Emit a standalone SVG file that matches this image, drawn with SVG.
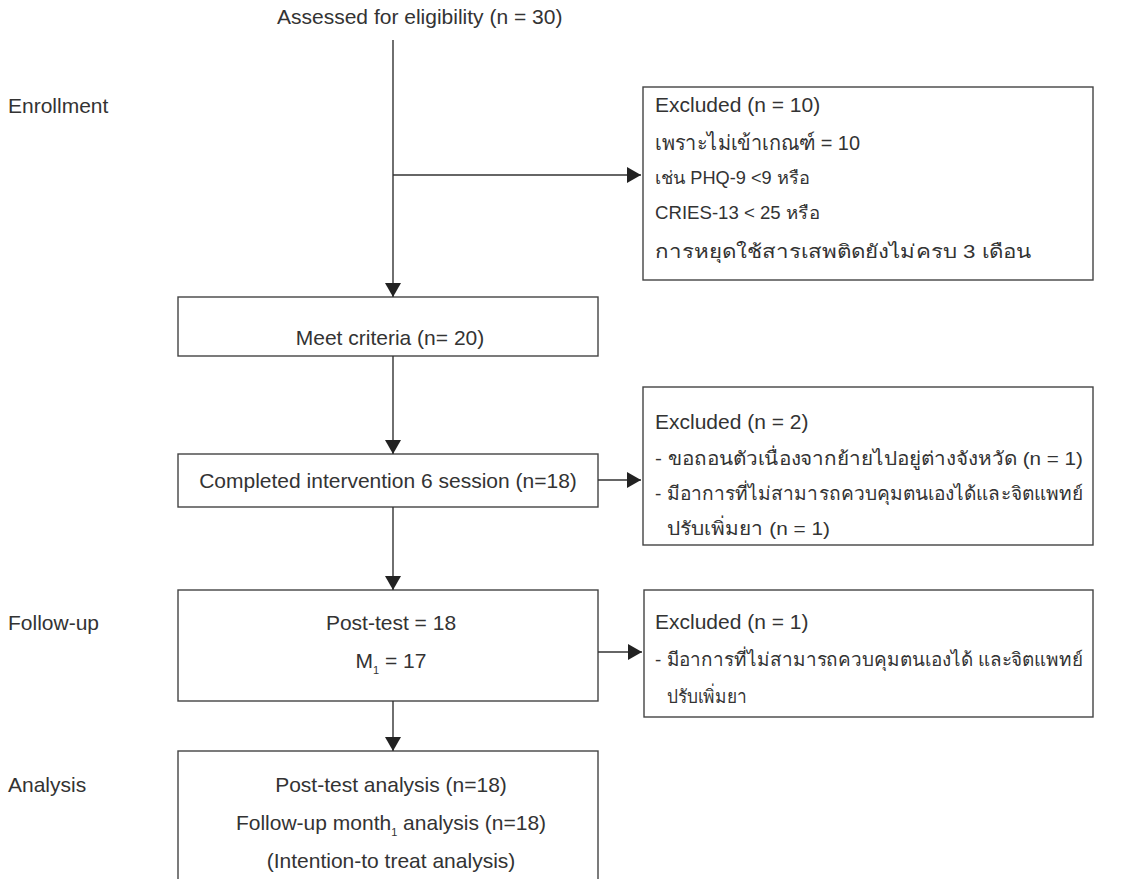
<svg xmlns="http://www.w3.org/2000/svg" width="1128" height="879" viewBox="0 0 1128 879">
<style>
text{font-family:"Liberation Sans","Noto Sans",sans-serif;font-size:21px;fill:#333}
.s{font-size:18px}
.t{font-size:19px}
.c{text-anchor:middle}
.sub{font-size:11px}
rect{fill:#fff;stroke:#444;stroke-width:1.4}
.ln{stroke:#333;stroke-width:1.4;fill:none}
</style>
<defs>
<marker id="ah" viewBox="0 0 14 16" refX="14" refY="8" markerWidth="14" markerHeight="16" markerUnits="userSpaceOnUse" orient="auto">
<path d="M0,0 L14,8 L0,16 Z" fill="#222"/>
</marker>
</defs>
<rect x="0" y="0" width="1128" height="879" style="stroke:none"/>
<g id="labels">
<text x="8" y="113">Enrollment</text>
<text x="8" y="630">Follow-up</text>
<text x="8" y="792">Analysis</text>
</g>
<g id="n0"><text x="277" y="24">Assessed for eligibility (n = 30)</text></g>
<g id="n1"><rect x="178" y="297" width="420" height="59"/><text class="c" x="390" y="345">Meet criteria (n= 20)</text></g>
<g id="n2"><rect x="178" y="454" width="420" height="53"/><text class="c" x="388" y="488">Completed intervention 6 session (n=18)</text></g>
<g id="n3"><rect x="178" y="590" width="420" height="111"/><text class="c" x="391" y="630">Post-test = 18</text><text class="c" x="391" y="668">M<tspan class="sub" dy="6">1</tspan><tspan dy="-6"> = 17</tspan></text></g>
<g id="n4"><rect x="178" y="751" width="420" height="140"/>
<text class="c" x="391" y="792">Post-test analysis (n=18)</text>
<text class="c" x="391" y="830">Follow-up month<tspan class="sub" dy="6">1</tspan><tspan dy="-6"> analysis (n=18)</tspan></text>
<text class="c" x="391" y="868">(Intention-to treat analysis)</text></g>
<g id="e1"><rect x="643" y="87" width="450" height="193"/>
<text x="655" y="112">Excluded (n = 10)</text>
<text x="655" y="150" textLength="205" lengthAdjust="spacingAndGlyphs">เพราะไม่เข้าเกณฑ์ = 10</text>
<text class="s" x="655" y="184" textLength="155" lengthAdjust="spacingAndGlyphs">เช่น PHQ-9 &lt;9 หรือ</text>
<text class="s" x="655" y="219" textLength="165" lengthAdjust="spacingAndGlyphs">CRIES-13 &lt; 25 หรือ</text>
<text class="t" x="655" y="258" textLength="376" lengthAdjust="spacingAndGlyphs">การหยุดใช้สารเสพติดยังไม่ครบ 3 เดือน</text></g>
<g id="e2"><rect x="643" y="387" width="450" height="158"/>
<text x="655" y="429">Excluded (n = 2)</text>
<text class="t" x="655" y="465" textLength="428" lengthAdjust="spacingAndGlyphs">- ขอถอนตัวเนื่องจากย้ายไปอยู่ต่างจังหวัด (n = 1)</text>
<text class="t" x="655" y="500" textLength="428" lengthAdjust="spacingAndGlyphs">- มีอาการที่ไม่สามารถควบคุมตนเองได้และจิตแพทย์</text>
<text class="t" x="667" y="535" textLength="163" lengthAdjust="spacingAndGlyphs">ปรับเพิ่มยา (n = 1)</text></g>
<g id="e3"><rect x="644" y="590" width="449" height="127"/>
<text x="655" y="629">Excluded (n = 1)</text>
<text class="t" x="655" y="666" textLength="428" lengthAdjust="spacingAndGlyphs">- มีอาการที่ไม่สามารถควบคุมตนเองได้ และจิตแพทย์</text>
<text class="t" x="667" y="703" textLength="80" lengthAdjust="spacingAndGlyphs">ปรับเพิ่มยา</text></g>
<g id="connectors">
<path class="ln" d="M393,40 V297" marker-end="url(#ah)"/>
<path class="ln" d="M393,175 H641" marker-end="url(#ah)"/>
<path class="ln" d="M393,356 V454" marker-end="url(#ah)"/>
<path class="ln" d="M598,480 H641" marker-end="url(#ah)"/>
<path class="ln" d="M393,507 V590" marker-end="url(#ah)"/>
<path class="ln" d="M598,652 H642" marker-end="url(#ah)"/>
<path class="ln" d="M393,701 V751" marker-end="url(#ah)"/>
</g>
</svg>
